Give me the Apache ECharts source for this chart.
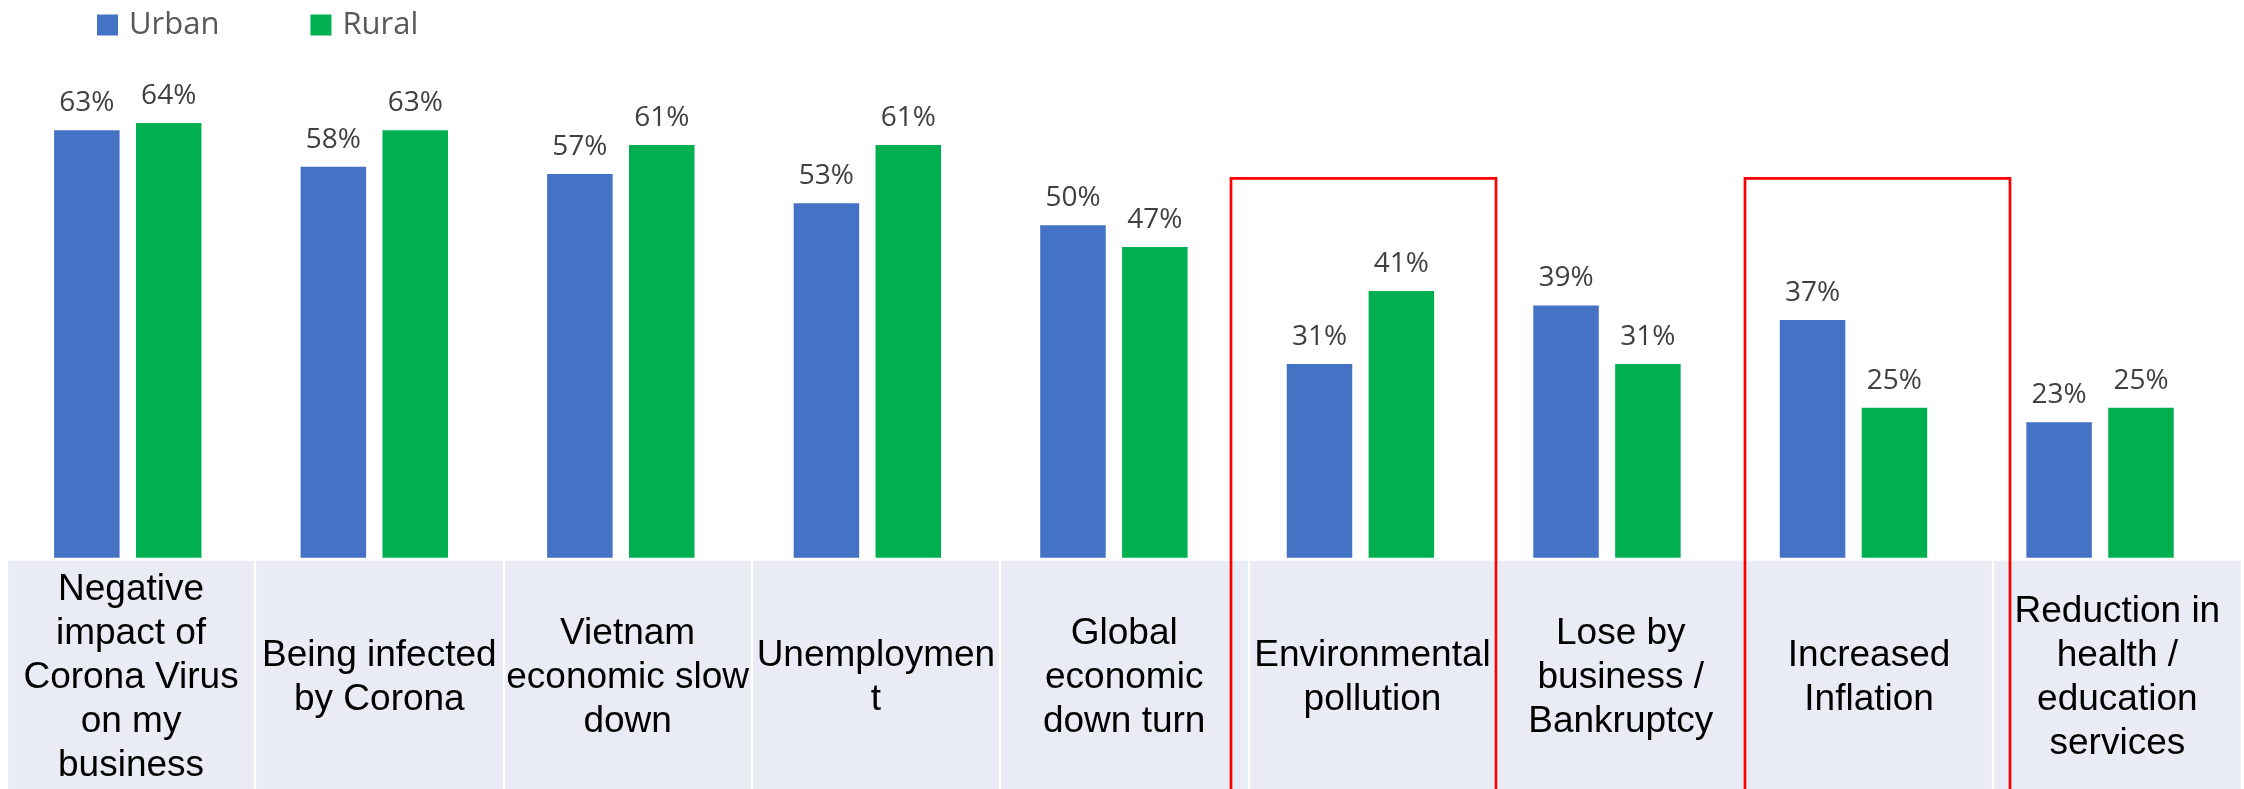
<!DOCTYPE html>
<html>
<head>
<meta charset="utf-8">
<script src="https://cdn.jsdelivr.net/npm/echarts@6/dist/echarts.min.js"></script>
<style>
  html, body { margin: 0; padding: 0; background: #fff; }
  #chart { width: 2244px; height: 789px; }
</style>
</head>
<body>
<div id="chart"></div>
<script>
// categories, as shown in the label band (line breaks kept as in the slide)
const categories = [
    'Negative\nimpact of\nCorona Virus\non my\nbusiness',
    'Being infected\nby Corona',
    'Vietnam\neconomic slow\ndown',
    'Unemploymen\nt',
    'Global\neconomic\ndown turn',
    'Environmental\npollution',
    'Lose by\nbusiness /\nBankruptcy',
    'Increased\nInflation',
    'Reduction in\nhealth /\neducation\nservices'
];
const urban = [63, 58, 57, 53, 50, 31, 39, 37, 23];
const rural = [64, 63, 61, 61, 47, 41, 31, 25, 25];

const bandFont = "'Liberation Sans', Arial, sans-serif";
const labelFont = "'Open Sans', 'Noto Sans', sans-serif";

const chart = echarts.init(document.getElementById('chart'));

const valueLabel = {
    show: true,
    position: 'top',
    distance: 10,
    formatter: '{c}%',
    color: '#404040',
    fontFamily: labelFont,
    fontSize: 28,
    lineHeight: 34
};

const option = {
    animation: false,
    backgroundColor: '#ffffff',
    legend: {
        data: ['Urban', 'Rural'],
        left: 97,
        top: 7,
        padding: 0,
        icon: 'rect',
        itemWidth: 21,
        itemHeight: 21,
        itemGap: 91,
        textStyle: {
            color: '#595959',
            fontFamily: labelFont,
            fontSize: 31,
            lineHeight: 36,
            padding: [0, 0, 0, 6]
        }
    },
    grid: [
        // bars
        { left: 4.5, right: 20.7, top: 0, bottom: 231.3, outerBoundsMode: 'none' },
        // label band
        { left: 6.9, right: 2.5, top: 560.7, bottom: 0, outerBoundsMode: 'none' }
    ],
    xAxis: [
        {
            type: 'category',
            gridIndex: 0,
            data: categories,
            axisLine: { show: false },
            axisTick: { show: false },
            axisLabel: { show: false }
        },
        {
            type: 'category',
            gridIndex: 1,
            position: 'top',
            data: categories,
            axisLine: { show: false },
            axisTick: { show: false },
            axisLabel: {
                inside: true,
                interval: 0,
                margin: 117,
                verticalAlign: 'middle',
                color: '#000000',
                fontFamily: bandFont,
                fontSize: 37,
                lineHeight: 44
            },
            splitArea: {
                show: true,
                interval: 0,
                areaStyle: { color: ['#E9EBF5'] }
            },
            splitLine: {
                show: true,
                interval: 0,
                lineStyle: { color: '#ffffff', width: 2.4 }
            }
        }
    ],
    yAxis: [
        { type: 'value', gridIndex: 0, min: 4.45, max: 80.85, show: false },
        { type: 'value', gridIndex: 1, show: false }
    ],
    series: [
        {
            name: 'Urban',
            type: 'bar',
            xAxisIndex: 0,
            yAxisIndex: 0,
            data: urban,
            barWidth: 65.5,
            barGap: '25%',
            clip: true,
            itemStyle: { color: '#4472C4' },
            label: valueLabel
        },
        {
            name: 'Rural',
            type: 'bar',
            xAxisIndex: 0,
            yAxisIndex: 0,
            data: rural,
            barWidth: 65.5,
            barGap: '25%',
            clip: true,
            itemStyle: { color: '#00B050' },
            label: valueLabel
        }
    ],
    // red highlight boxes drawn on the slide
    graphic: [
        {
            type: 'rect',
            z: 100,
            shape: { x: 1231, y: 178.3, width: 265, height: 640 },
            style: { fill: 'none', stroke: '#FF0000', lineWidth: 2.7 }
        },
        {
            type: 'rect',
            z: 100,
            shape: { x: 1745, y: 178.3, width: 265, height: 640 },
            style: { fill: 'none', stroke: '#FF0000', lineWidth: 2.7 }
        }
    ]
};

chart.setOption(option);
</script>
</body>
</html>
